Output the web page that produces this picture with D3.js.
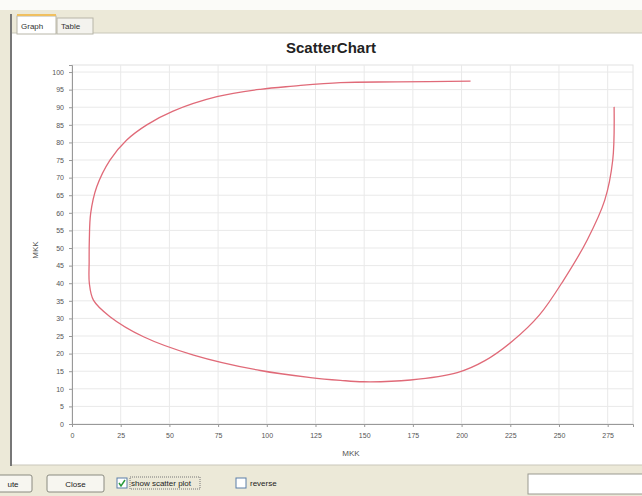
<!DOCTYPE html>
<html>
<head>
<meta charset="utf-8">
<script src="https://cdn.jsdelivr.net/npm/d3@7"></script>
<style>
body { margin: 0; background: #ece9d8; font-family: "Liberation Sans", Arial, sans-serif; }
text { font-family: "Liberation Sans", Arial, sans-serif; }
.tick text { font-size: 7px; fill: #555; }
.grid line { stroke: #e9e9e9; }
</style>
</head>
<body>
<script>
// curve, in drawing order (top right -> bottom -> left -> top)
var mkkX = [278.3, 277.6, 273.5, 264.5, 252.4, 240.0, 226.0, 212.0, 197.8, 173.8, 149.6, 137.8, 122.4, 96.7, 62.4, 36.7, 19.5, 11.0, 8.9, 8.8, 8.9, 9.6, 12.7, 19.5, 28.1, 38.4, 51.9, 74.4, 96.7, 113.6, 137.8, 166.9, 204.6];
var mkkY = [90.1, 75.0, 63.6, 52.3, 40.9, 31.0, 23.5, 18.0, 14.6, 12.5, 12.0, 12.4, 13.2, 15.2, 19.6, 24.8, 30.5, 35.2, 40.0, 46.0, 52.3, 59.9, 67.4, 75.0, 80.7, 85.0, 88.9, 93.0, 95.1, 96.0, 97.0, 97.2, 97.4];
var xTicks = [0, 25, 50, 75, 100, 125, 150, 175, 200, 225, 250, 275];
var yTicks = d3.range(0, 101, 5);
var tabs = ["Graph", "Table"];

var width = 642, height = 496;
var svg = d3.select("body").append("svg")
    .attr("width", width)
    .attr("height", height);

// window chrome
svg.append("rect").attr("x", 0).attr("y", 0).attr("width", width).attr("height", 10).attr("fill", "#fbfbf8");
svg.append("rect").attr("x", 12).attr("y", 33).attr("width", 630).attr("height", 432).attr("fill", "#fff");
svg.append("line").attr("x1", 11).attr("x2", 11).attr("y1", 14).attr("y2", 466).attr("stroke", "#777").attr("stroke-width", 2);
svg.append("line").attr("x1", 12).attr("x2", 642).attr("y1", 33).attr("y2", 33).attr("stroke", "#c9c7ba");
svg.append("line").attr("x1", 12).attr("x2", 642).attr("y1", 465).attr("y2", 465).attr("stroke", "#c9c7ba");

var tab = svg.selectAll(".tab").data(tabs).enter().append("g")
    .attr("transform", function(d, i) { return "translate(" + (i == 0 ? 17 : 57) + ",16)"; });
tab.append("rect")
    .attr("width", function(d, i) { return i == 0 ? 39 : 36; })
    .attr("height", function(d, i) { return i == 0 ? 18 : 16; })
    .attr("y", function(d, i) { return i == 0 ? 0 : 2; })
    .attr("fill", function(d, i) { return i == 0 ? "#fff" : "#f4f3ee"; })
    .attr("stroke", "#b8b6a8");
tab.append("text").text(function(d) { return d; })
    .attr("x", 4).attr("y", 13).attr("font-size", 8).attr("fill", "#333");
svg.append("rect").attr("x", 17).attr("y", 14).attr("width", 39).attr("height", 2).attr("fill", "#f0c060");

// plot
var margin = {left: 72, top: 65, right: 633, bottom: 424};
var x = d3.scaleLinear().domain([0, 288]).range([margin.left, margin.right]);
var y = d3.scaleLinear().domain([0, 102]).range([margin.bottom, margin.top]);

svg.append("text").text("ScatterChart")
    .attr("x", 331).attr("y", 53).attr("text-anchor", "middle")
    .attr("font-size", 15).attr("font-weight", "bold").attr("fill", "#222");

svg.append("rect").attr("x", margin.left).attr("y", margin.top)
    .attr("width", margin.right - margin.left).attr("height", margin.bottom - margin.top)
    .attr("fill", "#fff").attr("stroke", "#e2e2e2");

svg.append("g").attr("class", "grid")
    .selectAll("line").data(xTicks.slice(1)).enter().append("line")
    .attr("x1", d => x(d)).attr("x2", d => x(d))
    .attr("y1", margin.top).attr("y2", margin.bottom);
svg.append("g").attr("class", "grid")
    .selectAll("line").data(yTicks.slice(1)).enter().append("line")
    .attr("y1", d => y(d)).attr("y2", d => y(d))
    .attr("x1", margin.left).attr("x2", margin.right);

var xAxis = svg.append("g").attr("transform", "translate(0," + margin.bottom + ")")
    .call(d3.axisBottom(x).tickValues(xTicks).tickSize(3).tickPadding(6));
var yAxis = svg.append("g").attr("transform", "translate(" + margin.left + ",0)")
    .call(d3.axisLeft(y).tickValues(yTicks).tickSize(3).tickPadding(5));
[xAxis, yAxis].forEach(function(a) {
  a.select(".domain").attr("stroke", "#999");
  a.selectAll(".tick line").attr("stroke", "#999");
});

svg.append("text").text("MKK").attr("x", 351).attr("y", 456)
    .attr("text-anchor", "middle").attr("font-size", 8).attr("fill", "#555");
svg.append("text").text("MKK")
    .attr("transform", "translate(38,250) rotate(-90)")
    .attr("text-anchor", "middle").attr("font-size", 8).attr("fill", "#555");

var pts = mkkX.map(function(v, i) { return [v, mkkY[i]]; });
var line = d3.line().x(d => x(d[0])).y(d => y(d[1])).curve(d3.curveCatmullRom);
svg.append("path").datum(pts)
    .attr("d", line)
    .attr("fill", "none")
    .attr("stroke", "#e06a78")
    .attr("stroke-width", 1.3);

// bottom bar controls
function button(x0, w, label) {
  svg.append("rect").attr("x", x0).attr("y", 475).attr("width", w).attr("height", 17)
      .attr("rx", 2).attr("fill", "#f7f6f0").attr("stroke", "#8a8a80");
  svg.append("text").text(label).attr("x", x0 + w / 2).attr("y", 487)
      .attr("text-anchor", "middle").attr("font-size", 8).attr("fill", "#222");
}
button(-6, 38, "ute");
button(47, 57, "Close");

function checkbox(x0, checked, label) {
  svg.append("rect").attr("x", x0).attr("y", 478).attr("width", 10).attr("height", 10)
      .attr("fill", "#fff").attr("stroke", "#5a7ea8");
  if (checked) {
    svg.append("path").attr("d", "M" + (x0 + 2) + ",483 l2,3 l4,-6")
        .attr("fill", "none").attr("stroke", "#2a9a3a").attr("stroke-width", 1.5);
    svg.append("rect").attr("x", x0 + 13).attr("y", 477).attr("width", 70).attr("height", 12)
        .attr("fill", "none").attr("stroke", "#777").attr("stroke-dasharray", "1,1");
  }
  svg.append("text").text(label).attr("x", x0 + 14).attr("y", 486)
      .attr("font-size", 8).attr("fill", "#222");
}
checkbox(117, true, "show scatter plot");
checkbox(236, false, "reverse");

svg.append("rect").attr("x", 528).attr("y", 474).attr("width", 120).attr("height", 20)
    .attr("fill", "#fff").attr("stroke", "#9a9a90");
</script>
</body>
</html>
